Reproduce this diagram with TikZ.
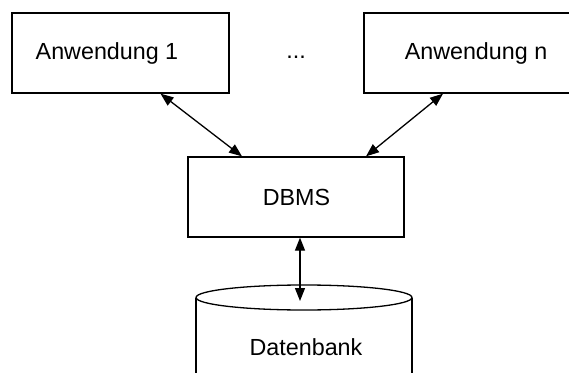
\documentclass[tikz,border=0pt]{standalone}
\usepackage{fontspec}
\setmainfont{Liberation Sans}
\usetikzlibrary{arrows.meta}

\begin{document}
\begin{tikzpicture}[x=1pt,y=1pt,
	box/.style={rectangle,draw=black,line width=1.3pt,minimum width=217pt,minimum height=80pt},
	txt/.style={font=\fontsize{23.3}{27}\selectfont,inner sep=0pt},
	link/.style={{Triangle[length=13pt,width=10pt]}-{Triangle[length=13pt,width=10pt]},line width=1.3pt}]
	\useasboundingbox (0,0) rectangle (569,372);
	\node[box] (app1) at (120.5,319) {};
	\node[txt] (app1text) at (107,319) {Anwendung 1};
	\node[box] (appn) at (472.5,319) {};
	\node[txt] (appntext) at (476,319) {Anwendung n};
	\node[txt] (dots) at (296,315) {...};
	\node[box,minimum width=216pt] (dbms) at (296,175) {};
	\node[txt] (dbmstext) at (296.5,175) {DBMS};
	\draw[line width=1.3pt] (196,74.5) -- (196,-20) (412,74.5) -- (412,-20);
	\draw[line width=1.3pt,fill=white] (304,74.5) ellipse [x radius=108,y radius=12.5];
	\node[txt] (db) at (306,25) {Datenbank};
	\coordinate (dbtop) at (300,71);
	\draw[link] ([xshift=40pt]app1.south) -- ([xshift=-54pt]dbms.north);
	\draw[link] ([xshift=-29.5pt]appn.south) -- ([xshift=70pt]dbms.north);
	\draw[link] ([xshift=4pt]dbms.south) -- (dbtop);
\end{tikzpicture}
\end{document}
